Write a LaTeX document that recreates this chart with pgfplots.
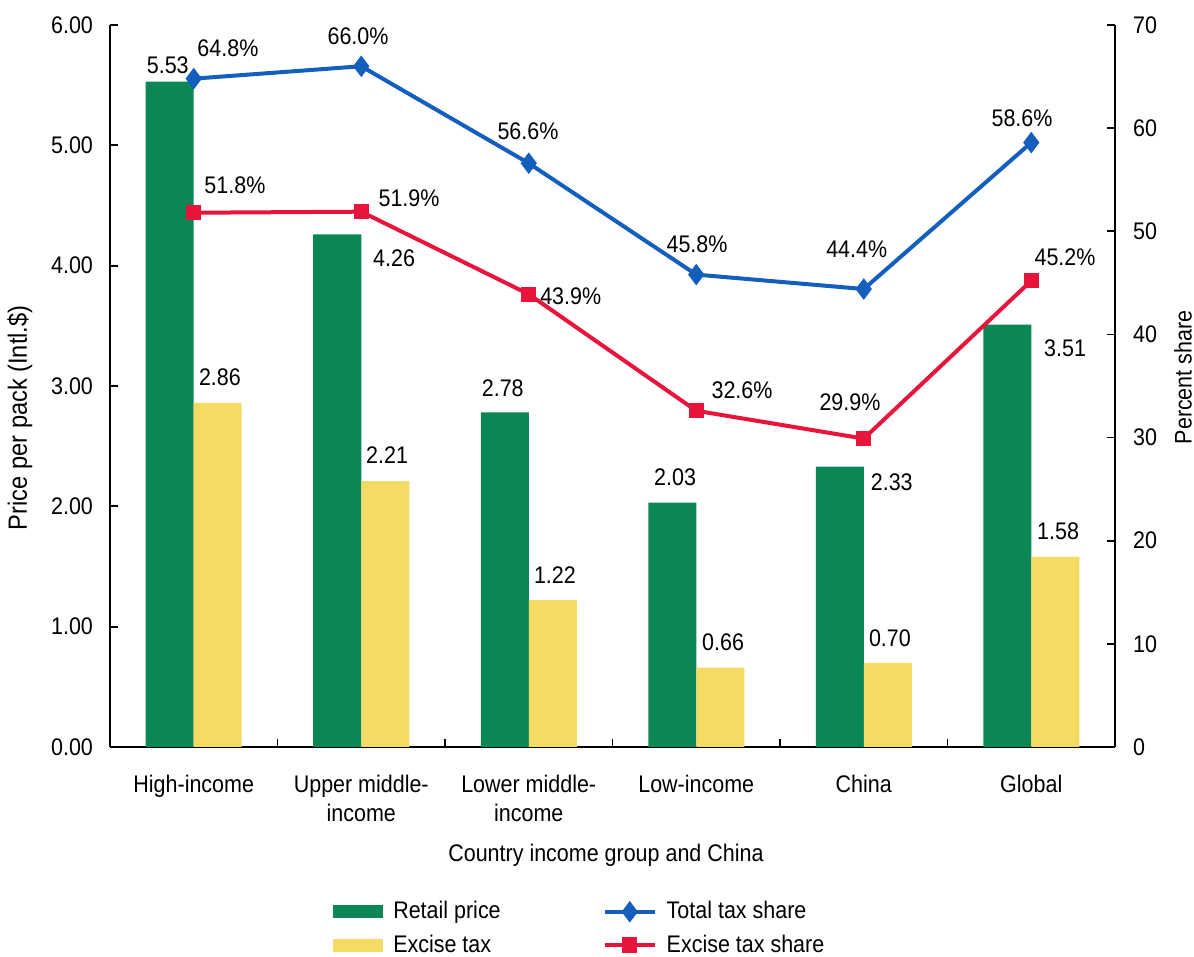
\documentclass[border=0pt]{standalone}
\usepackage{fontspec}
\setmainfont{Liberation Sans}[FakeStretch=0.895]
\usepackage{pgfplots}
\usepackage{pgfplotstable}
\pgfplotsset{compat=1.18}
\pgfplotsset{/pgf/number format/assume math mode=true}
\definecolor{cgreen}{RGB}{10,135,85}
\definecolor{cyellow}{RGB}{245,218,100}
\definecolor{cblue}{RGB}{20,95,190}
\definecolor{cred}{RGB}{232,20,60}

\pgfplotstableread{
x retail rdx rdy excise edx edy
0 5.53 -13 8.3 2.86 13.1 13
1 4.26 16.4 -11.8 2.21 12.9 13
2 2.78 -13 12.2 1.22 13.1 12.6
3 2.03 -10.6 12.8 0.66 13.4 12.8
4 2.33 14 -7.7 0.70 13.1 12.4
5 3.51 16.9 -11.7 1.58 13.4 13
}\pricedata

\pgfplotstableread{
x total tdx tdy excise edx edy
0 64.8 17.1 15.3 51.8 20.6 13.9
1 66.0 -1.6 15.1 51.9 23.9 6.9
2 56.6 -0.4 16.1 43.9 21 -1
3 45.8 0.4 15.3 32.6 22.9 10.4
4 44.4 -3.5 20 29.9 -6.9 18.3
5 58.6 -4.6 12.3 45.2 16.9 11.9
}\sharedata

\pgfplotsset{
  common/.style={
    at={(0,0)}, anchor=south west,
    scale only axis, width=502.5pt, height=361pt,
    xmin=-0.5, xmax=5.5, clip=false,
    font=\fontsize{12}{14.5}\selectfont,
    tick align=inside, major tick length=4pt,
    axis line style={line width=0.9pt, black},
    tick style={line width=0.9pt, black},
  },
  lineleg/.style={legend image code/.code={\draw[mark repeat=2,mark phase=2,##1] plot coordinates {(0pt,0pt)(12.5pt,0pt)(25pt,0pt)};}},
  greenleg/.style={legend image code/.code={\fill[cgreen] (0pt,-3pt) rectangle (24.5pt,3pt);}},
  yellowleg/.style={legend image code/.code={\fill[cyellow] (0pt,-3pt) rectangle (24.5pt,3pt);}},
}

\begin{document}
\begin{tikzpicture}
\path[use as bounding box] (-55pt,-105pt) rectangle (542pt,373.5pt);
\begin{axis}[common,
  ymin=0, ymax=6,
  axis y line*=left, axis x line*=bottom,
  ytick={0,1,...,6},
  y tick label style={xshift=-5pt, /pgf/number format/fixed, /pgf/number format/fixed zerofill, /pgf/number format/precision=2},
  xtick={0.5,1.5,2.5,3.5,4.5}, xticklabels={},
  extra x ticks={0,1,2,3,4,5},
  extra x tick labels={High-income,{Upper middle-\\income},{Lower middle-\\income},Low-income,China,Global},
  extra x tick style={major tick length=0pt},
  x tick label style={align=center, yshift=-10.5pt},
  ylabel={Price per pack (Intl.\$)},
  every axis y label/.style={at={(axis description cs:-0.0896,0.456)}, rotate=90, anchor=center, font=\fontsize{13.2}{15}\selectfont},
  xlabel={Country income group and China},
  every axis x label/.style={at={(axis description cs:0.4935,-0.1496)}, anchor=center},
]
\addplot[ybar, bar width=24pt, bar shift=-12pt, fill=cgreen, draw=none,
  nodes near coords={\pgfmathprintnumber[fixed,fixed zerofill,precision=2]{\pgfplotspointmeta}},
  visualization depends on={\thisrow{rdx}\as\dx},
  visualization depends on={\thisrow{rdy}\as\dy},
  nodes near coords style={anchor=center, xshift=\dx pt, yshift=\dy pt, text=black}]
  table[x=x, y=retail]{\pricedata};
\addplot[ybar, bar width=24pt, bar shift=12pt, fill=cyellow, draw=none,
  nodes near coords={\pgfmathprintnumber[fixed,fixed zerofill,precision=2]{\pgfplotspointmeta}},
  visualization depends on={\thisrow{edx}\as\dx},
  visualization depends on={\thisrow{edy}\as\dy},
  nodes near coords style={anchor=center, xshift=\dx pt, yshift=\dy pt, text=black}]
  table[x=x, y=excise]{\pricedata};
\end{axis}
\begin{axis}[common,
  ymin=0, ymax=70,
  axis y line*=right, axis x line=none,
  ytick={0,10,...,70},
  y tick label style={xshift=5.5pt},
  ylabel={Percent share},
  every axis y label/.style={at={(axis description cs:1.0677,0.512)}, rotate=90, anchor=center},
  legend style={at={(0.216,-0.2025)}, anchor=north west, draw=none, fill=none,
    legend columns=2, row sep=2.5pt, font=\fontsize{12}{14.5}\selectfont,
    /tikz/every odd column/.append style={column sep=3pt},
    /tikz/every even column/.append style={column sep=49pt}},
  legend cell align=left,
]
\addlegendimage{greenleg}
\addlegendentry{Retail price}
\addplot[cblue, line width=2pt, mark=diamond*, mark size=5pt, mark options={fill=cblue, line width=0.5pt},
  lineleg,
  nodes near coords={\pgfmathprintnumber[fixed,fixed zerofill,precision=1]{\pgfplotspointmeta}\%},
  visualization depends on={\thisrow{tdx}\as\dx},
  visualization depends on={\thisrow{tdy}\as\dy},
  nodes near coords style={anchor=center, xshift=\dx pt, yshift=\dy pt, text=black}]
  table[x=x, y=total]{\sharedata};
\addlegendentry{Total tax share}
\addlegendimage{yellowleg}
\addlegendentry{Excise tax}
\addplot[cred, line width=2pt, mark=square*, mark size=3.6pt, mark options={fill=cred, line width=0.5pt},
  lineleg,
  nodes near coords={\pgfmathprintnumber[fixed,fixed zerofill,precision=1]{\pgfplotspointmeta}\%},
  visualization depends on={\thisrow{edx}\as\dx},
  visualization depends on={\thisrow{edy}\as\dy},
  nodes near coords style={anchor=center, xshift=\dx pt, yshift=\dy pt, text=black}]
  table[x=x, y=excise]{\sharedata};
\addlegendentry{Excise tax share}
\end{axis}
\end{tikzpicture}
\end{document}
